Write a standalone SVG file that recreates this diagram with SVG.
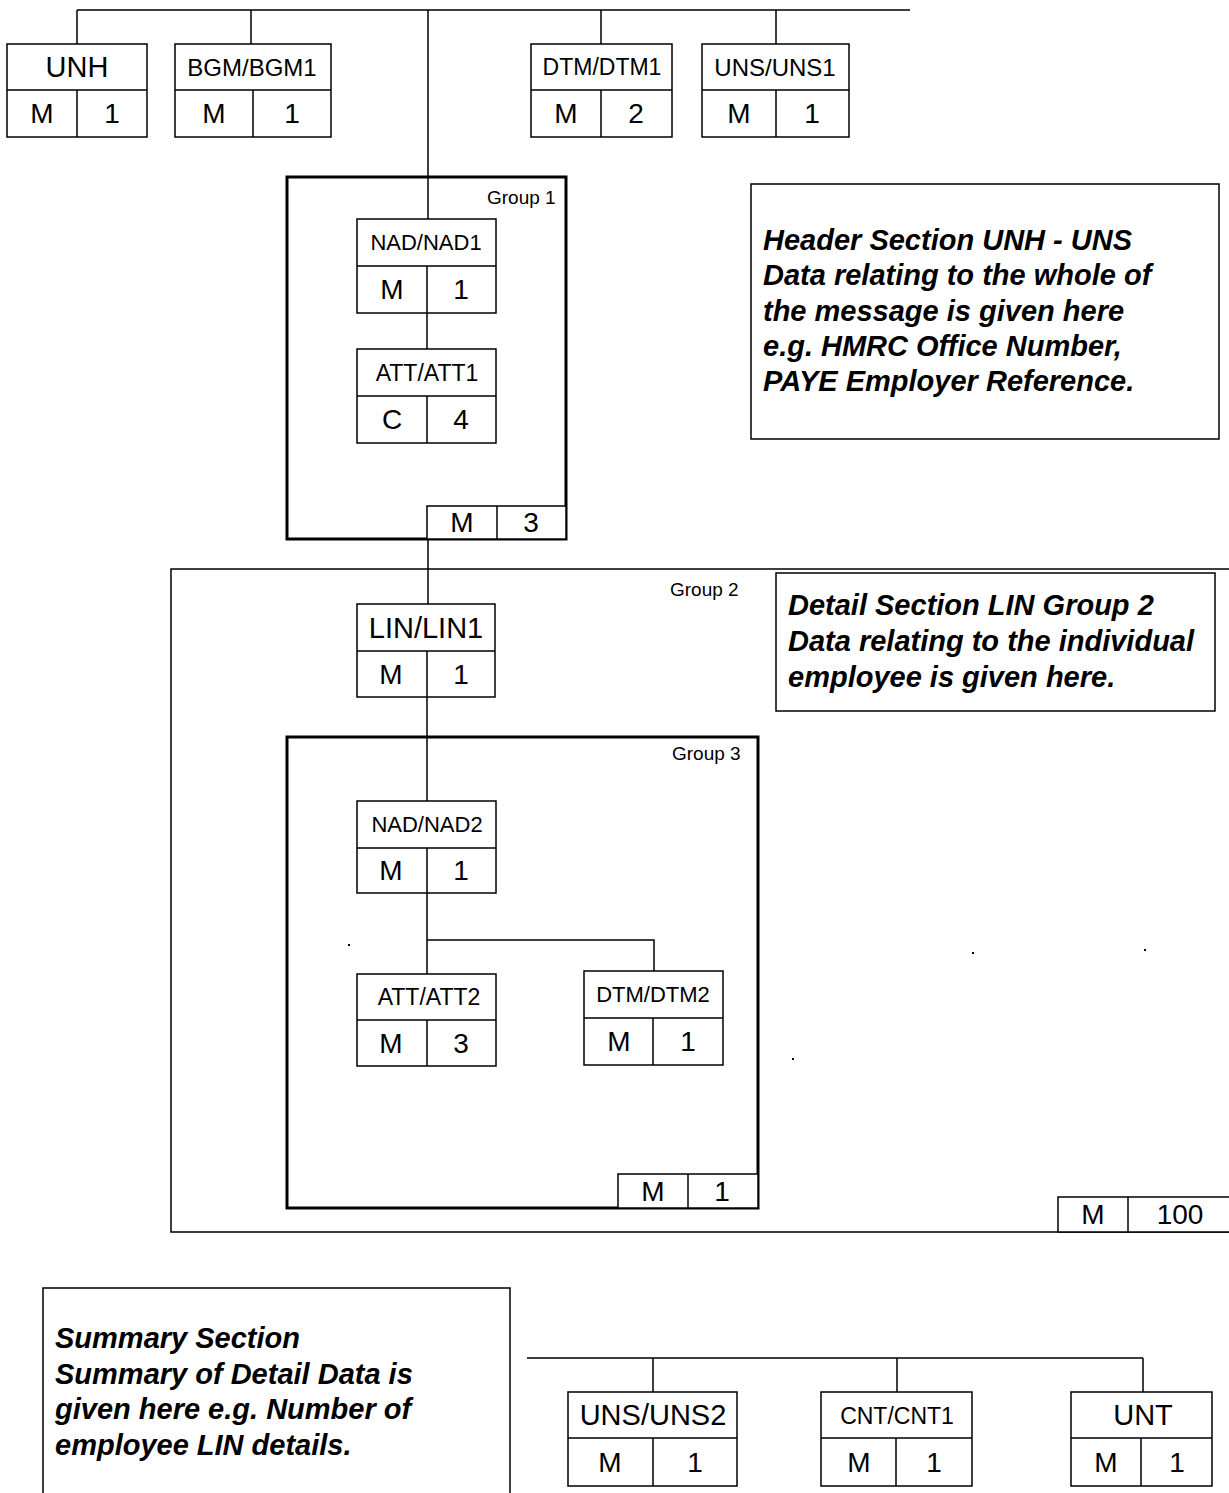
<svg xmlns="http://www.w3.org/2000/svg" width="1229" height="1493" viewBox="0 0 1229 1493">
<style>
.b{fill:#fff;stroke:#000;stroke-width:1.5}
.l{stroke:#000;stroke-width:1.5;fill:none}
.g{fill:none;stroke:#000;stroke-width:3}
.t{font-family:"Liberation Sans",Arial,sans-serif;fill:#000;text-anchor:middle}
.tl{font-size:29px}
.tm{font-size:28px}
.gl{font-family:"Liberation Sans",Arial,sans-serif;font-size:19px;fill:#000}
.note{font-family:"Liberation Sans",Arial,sans-serif;font-size:29px;font-weight:bold;font-style:italic;fill:#000}
</style>
<rect width="1229" height="1493" fill="#fff"/>

<g id="connectors">
<path class="l" d="M77 10H910M77 10V44M251 10V44M428 10V219M601 10V44M776 10V44"/>
<path class="l" d="M427 313V349"/>
<path class="l" d="M428 539V604"/>
<path class="l" d="M427 697V801"/>
<path class="l" d="M427 893V974M427 940H654V971"/>
<path class="l" d="M527 1358H1143M653 1358V1392M897 1358V1392M1143 1358V1392"/>
</g>

<g id="group2">
<path class="l" d="M1229 569H171V1232H1229"/>
<text class="gl" x="670" y="596">Group 2</text>
<rect class="b" x="1058" y="1197" width="175" height="35"/>
<line class="l" x1="1128" y1="1197" x2="1128" y2="1232"/>
<text class="t tm" x="1093" y="1224">M</text>
<text class="t tm" x="1180" y="1224">100</text>
</g>

<g id="group1">
<rect class="g" x="287" y="177" width="279" height="362"/>
<text class="gl" x="487" y="204">Group 1</text>
<rect class="b" x="427" y="506" width="139" height="33"/>
<line class="l" x1="497" y1="506" x2="497" y2="539"/>
<text class="t tm" x="462" y="532">M</text>
<text class="t tm" x="531" y="532">3</text>
</g>

<g id="group3">
<rect class="g" x="287" y="737" width="471" height="471"/>
<text class="gl" x="672" y="760">Group 3</text>
<rect class="b" x="618" y="1174" width="140" height="34"/>
<line class="l" x1="688" y1="1174" x2="688" y2="1208"/>
<text class="t tm" x="653" y="1201">M</text>
<text class="t tm" x="722" y="1201">1</text>
</g>

<g id="UNH">
<rect class="b" x="7" y="44" width="140" height="93"/>
<path class="l" d="M7 90H147M77 90V137"/>
<text class="t tl" x="77" y="77">UNH</text>
<text class="t tm" x="42" y="123">M</text>
<text class="t tm" x="112" y="123">1</text>
</g>

<g id="BGM">
<rect class="b" x="175" y="44" width="156" height="93"/>
<path class="l" d="M175 90H331M253 90V137"/>
<text class="t" font-size="24" x="252" y="76">BGM/BGM1</text>
<text class="t tm" x="214" y="123">M</text>
<text class="t tm" x="292" y="123">1</text>
</g>

<g id="DTM1">
<rect class="b" x="531" y="44" width="141" height="93"/>
<path class="l" d="M531 90H672M601 90V137"/>
<text class="t" font-size="23" x="602" y="75">DTM/DTM1</text>
<text class="t tm" x="566" y="123">M</text>
<text class="t tm" x="636" y="123">2</text>
</g>

<g id="UNS1">
<rect class="b" x="702" y="44" width="147" height="93"/>
<path class="l" d="M702 90H849M776 90V137"/>
<text class="t" font-size="24" x="775" y="76">UNS/UNS1</text>
<text class="t tm" x="739" y="123">M</text>
<text class="t tm" x="812" y="123">1</text>
</g>

<g id="NAD1">
<rect class="b" x="357" y="219" width="139" height="94"/>
<path class="l" d="M357 266H496M427 266V313"/>
<text class="t" font-size="22" x="426" y="250">NAD/NAD1</text>
<text class="t tm" x="392" y="299">M</text>
<text class="t tm" x="461" y="299">1</text>
</g>

<g id="ATT1">
<rect class="b" x="357" y="349" width="139" height="94"/>
<path class="l" d="M357 396H496M427 396V443"/>
<text class="t" font-size="23" x="427" y="381">ATT/ATT1</text>
<text class="t tm" x="392" y="429">C</text>
<text class="t tm" x="461" y="429">4</text>
</g>

<g id="LIN1">
<rect class="b" x="357" y="604" width="138" height="93"/>
<path class="l" d="M357 651H495M427 651V697"/>
<text class="t tl" x="426" y="638">LIN/LIN1</text>
<text class="t tm" x="391" y="684">M</text>
<text class="t tm" x="461" y="684">1</text>
</g>

<g id="NAD2">
<rect class="b" x="357" y="801" width="139" height="92"/>
<path class="l" d="M357 848H496M427 848V893"/>
<text class="t" font-size="22" x="427" y="832">NAD/NAD2</text>
<text class="t tm" x="391" y="880">M</text>
<text class="t tm" x="461" y="880">1</text>
</g>

<g id="ATT2">
<rect class="b" x="357" y="974" width="139" height="92"/>
<path class="l" d="M357 1020H496M427 1020V1066"/>
<text class="t" font-size="23" x="429" y="1005">ATT/ATT2</text>
<text class="t tm" x="391" y="1053">M</text>
<text class="t tm" x="461" y="1053">3</text>
</g>

<g id="DTM2">
<rect class="b" x="584" y="971" width="139" height="94"/>
<path class="l" d="M584 1018H723M653 1018V1065"/>
<text class="t" font-size="22" x="653" y="1002">DTM/DTM2</text>
<text class="t tm" x="619" y="1051">M</text>
<text class="t tm" x="688" y="1051">1</text>
</g>

<g id="UNS2">
<rect class="b" x="568" y="1392" width="169" height="94"/>
<path class="l" d="M568 1438H737M653 1438V1486"/>
<text class="t tl" x="653" y="1425">UNS/UNS2</text>
<text class="t tm" x="610" y="1472">M</text>
<text class="t tm" x="695" y="1472">1</text>
</g>

<g id="CNT1">
<rect class="b" x="821" y="1392" width="151" height="94"/>
<path class="l" d="M821 1438H972M896 1438V1486"/>
<text class="t" font-size="23" x="897" y="1424">CNT/CNT1</text>
<text class="t tm" x="859" y="1472">M</text>
<text class="t tm" x="934" y="1472">1</text>
</g>

<g id="UNT">
<rect class="b" x="1071" y="1392" width="141" height="94"/>
<path class="l" d="M1071 1438H1212M1141 1438V1486"/>
<text class="t tl" x="1143" y="1425">UNT</text>
<text class="t tm" x="1106" y="1472">M</text>
<text class="t tm" x="1177" y="1472">1</text>
</g>

<g id="header-note">
<rect class="b" x="751" y="184" width="468" height="255"/>
<text class="note" x="763" y="250">Header Section UNH - UNS</text>
<text class="note" x="763" y="285">Data relating to the whole of</text>
<text class="note" x="763" y="321">the message is given here</text>
<text class="note" x="763" y="356">e.g. HMRC Office Number,</text>
<text class="note" x="763" y="391">PAYE Employer Reference.</text>
</g>

<g id="detail-note">
<rect class="b" x="776" y="573" width="439" height="138"/>
<text class="note" x="788" y="615">Detail Section LIN Group 2</text>
<text class="note" x="788" y="651">Data relating to the individual</text>
<text class="note" x="788" y="687">employee is given here.</text>
</g>

<g id="summary-note">
<rect class="b" x="43" y="1288" width="467" height="220"/>
<text class="note" x="55" y="1348">Summary Section</text>
<text class="note" x="55" y="1384">Summary of Detail Data is</text>
<text class="note" x="55" y="1419">given here e.g. Number of</text>
<text class="note" x="55" y="1455">employee LIN details.</text>
</g>

<g id="dots" fill="#000">
<rect x="348" y="944" width="2" height="2"/>
<rect x="972" y="952" width="2" height="2"/>
<rect x="1144" y="949" width="2" height="2"/>
<rect x="792" y="1058" width="2" height="2"/>
</g>
</svg>
